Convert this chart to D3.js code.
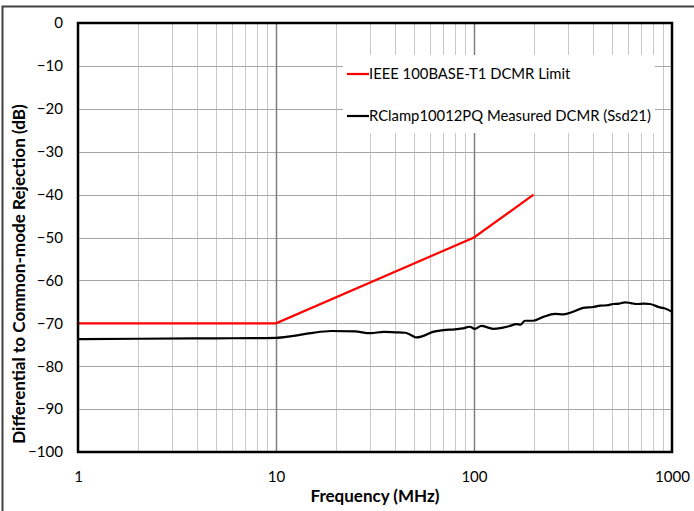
<!DOCTYPE html>
<html>
<head>
<meta charset="utf-8">
<script src="https://cdn.jsdelivr.net/npm/d3@7"></script>
<style>
  body { margin: 0; background: #fff; }
  text { font-family: Lato, "Open Sans", sans-serif; fill: #000; }
</style>
</head>
<body>
<svg id="chart" width="694" height="511"></svg>
<script>
// IEEE 100BASE-T1 DCMR limit line
const limitFreq = [1, 10, 100, 200];
const limitDb = [-70, -70, -50, -40];

// RClamp10012PQ measured differential-to-common-mode rejection (Ssd21)
const measFreq = [1, 2, 5, 8, 10, 12, 15, 19, 25, 30, 35, 40, 45, 48, 51, 55, 62, 70, 80, 88, 95, 101, 109, 118, 125,
  140, 150, 164, 172, 181, 199, 224, 256, 283, 317, 356, 400, 433, 470, 505, 540, 579, 620, 663, 720, 774, 869, 930, 1000];
const measDb = [-73.7, -73.6, -73.5, -73.45, -73.4, -73.0, -72.3, -71.8, -71.9, -72.3, -72.0, -72.1, -72.2, -72.7, -73.3,
  -73.0, -72.0, -71.6, -71.4, -71.2, -70.8, -71.3, -70.6, -71.0, -71.3, -71.0, -70.7, -70.2, -70.3, -69.4, -69.4, -68.5,
  -67.8, -67.9, -67.3, -66.4, -66.2, -65.9, -65.8, -65.5, -65.4, -65.1, -65.3, -65.5, -65.4, -65.5, -66.3, -66.6, -67.3];

const xTickValues = [1, 10, 100, 1000];
const yTickValues = [0, -10, -20, -30, -40, -50, -60, -70, -80, -90, -100];
const seriesNames = ["IEEE 100BASE-T1 DCMR Limit", "RClamp10012PQ Measured DCMR (Ssd21)"];
const seriesColors = ["#ff0000", "#000000"];

const W = 694, H = 511;
const margin = { left: 78, right: 22, top: 23, bottom: 59 };
const svg = d3.select("#chart");

// Scale a text element's font size so it spans the given width
function fitWidth(sel, width) {
  sel.each(function () {
    const base = parseFloat(getComputedStyle(this).fontSize);
    const len = this.getComputedTextLength();
    if (len > 0) d3.select(this).style("font-size", (base * width / len).toFixed(2) + "px");
  });
}

// Outer chart frame
svg.append("rect")
  .attr("x", 2.5).attr("y", 6.5).attr("width", W + 10).attr("height", H + 10)
  .attr("fill", "none").attr("stroke", "#404040").attr("stroke-width", 2);

const x = d3.scaleLog().domain([1, 1000]).range([margin.left, W - margin.right]);
const y = d3.scaleLinear().domain([-100, 0]).range([H - margin.bottom, margin.top]);

const g = svg.append("g");

// Minor vertical gridlines (2..9 within each decade)
const minor = [];
for (let d = 1; d < 1000; d *= 10) for (let k = 2; k <= 9; k++) minor.push(d * k);
g.append("g").selectAll("line").data(minor).join("line")
  .attr("x1", d => Math.round(x(d)) + 0.5).attr("x2", d => Math.round(x(d)) + 0.5)
  .attr("y1", y(0)).attr("y2", y(-100))
  .attr("stroke", "#c8c8c8").attr("stroke-width", 1);

// Horizontal gridlines
g.append("g").selectAll("line").data(yTickValues).join("line")
  .attr("x1", x(1)).attr("x2", x(1000))
  .attr("y1", d => Math.round(y(d)) + 0.5).attr("y2", d => Math.round(y(d)) + 0.5)
  .attr("stroke", "#a6a6a6").attr("stroke-width", 1);

// Decade gridlines
g.append("g").selectAll("line").data([10, 100]).join("line")
  .attr("x1", d => Math.round(x(d)) + 0.5).attr("x2", d => Math.round(x(d)) + 0.5)
  .attr("y1", y(0)).attr("y2", y(-100))
  .attr("stroke", "#7f7f7f").attr("stroke-width", 1.5);

// Legend background (covers gridlines)
const legend = svg.append("g").attr("transform", "translate(343,55)");
legend.append("rect").attr("width", 312).attr("height", 78).attr("fill", "#fff");

// Data lines
svg.append("path")
  .datum(measFreq.map((f, i) => [f, measDb[i]]))
  .attr("d", d3.line().x(d => x(d[0])).y(d => y(d[1])).curve(d3.curveMonotoneX))
  .attr("fill", "none").attr("stroke", seriesColors[1]).attr("stroke-width", 2.2);
svg.append("path")
  .datum(limitFreq.map((f, i) => [f, limitDb[i]]))
  .attr("d", d3.line().x(d => x(d[0])).y(d => y(d[1])))
  .attr("fill", "none").attr("stroke", seriesColors[0]).attr("stroke-width", 2.2);

// Plot border
svg.append("rect")
  .attr("x", x(1)).attr("y", y(0)).attr("width", x(1000) - x(1)).attr("height", y(-100) - y(0))
  .attr("fill", "none").attr("stroke", "#000").attr("stroke-width", 2.5);

// Axes (labels only)
const xAxis = svg.append("g").attr("transform", `translate(0,${y(-100)})`)
  .call(d3.axisBottom(x).tickValues(xTickValues).tickFormat(d3.format("d")).tickSize(0).tickPadding(19));
xAxis.select(".domain").remove();
xAxis.selectAll("text").style("font-family", "Lato, sans-serif").style("font-size", "14px");
fitWidth(xAxis.selectAll("text").filter(d => d === 1000), 35);
const tickSize = xAxis.selectAll("text").filter(d => d === 1000).style("font-size");
xAxis.selectAll("text").style("font-size", tickSize);

const yAxis = svg.append("g").attr("transform", `translate(${x(1)},0)`)
  .call(d3.axisLeft(y).tickValues(yTickValues).tickFormat(d3.format("d")).tickSize(0).tickPadding(15));
yAxis.select(".domain").remove();
yAxis.selectAll("text").style("font-family", "Lato, sans-serif").style("font-size", tickSize);

// Axis titles
svg.append("text")
  .attr("x", (x(1) + x(1000)) / 2).attr("y", 502)
  .attr("text-anchor", "middle").style("font-size", "14px").style("font-weight", "bold")
  .text("Frequency (MHz)")
  .call(fitWidth, 129);
// Vertical title is centred on the whole chart frame, which runs past the bottom edge
svg.append("text")
  .attr("transform", "translate(25,274) rotate(-90)")
  .attr("text-anchor", "middle").style("font-size", "14px").style("font-weight", "bold")
  .text("Differential to Common-mode Rejection (dB)")
  .call(fitWidth, 340);

// Legend entries
const legendText = [];
seriesNames.forEach((name, i) => {
  const row = legend.append("g").attr("transform", `translate(0,${19 + i * 42})`);
  row.append("line").attr("x1", 4).attr("x2", 26).attr("y1", 0).attr("y2", 0)
    .attr("stroke", seriesColors[i]).attr("stroke-width", 2.2);
  legendText.push(row.append("text").attr("x", 26).attr("y", 0).attr("dy", "0.35em")
    .style("font-size", "13px").text(name));
});
fitWidth(legendText[1], 282);
legendText[0].style("font-size", legendText[1].style("font-size"));
</script>
</body>
</html>
